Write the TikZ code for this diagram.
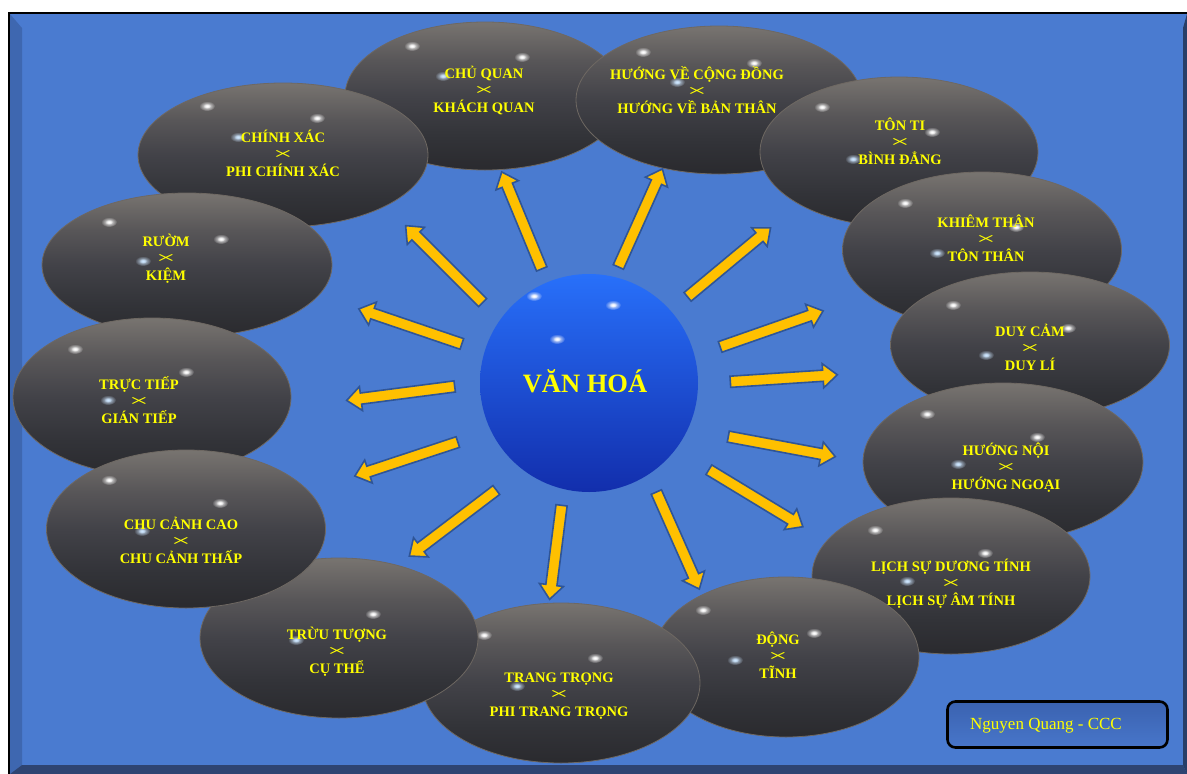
\documentclass[tikz,border=0pt]{standalone}
\usepackage{fontspec}
\setmainfont{Liberation Serif}
\usetikzlibrary{shapes.geometric,shapes.arrows,calc,fadings}
\definecolor{bgblue}{RGB}{74,123,208}
\definecolor{bevL}{RGB}{62,103,176}
\definecolor{bevB}{RGB}{46,68,114}
\definecolor{bevR}{RGB}{40,62,104}
\definecolor{ballRim}{RGB}{110,104,98}
\definecolor{arrFill}{RGB}{255,192,0}
\definecolor{arrOut}{RGB}{47,85,151}
\definecolor{txtY}{RGB}{255,255,0}
\definecolor{bluedot}{RGB}{205,230,255}
\definecolor{sphTop}{RGB}{40,112,250}
\definecolor{sphMid}{RGB}{28,78,228}
\definecolor{sphBot}{RGB}{18,46,172}
\definecolor{boxTop}{RGB}{58,98,176}
\definecolor{boxBot}{RGB}{72,118,202}
\pgfdeclareverticalshading{ballsh}{100bp}{
  color(0bp)=(rgb,255:red,42;green,42;blue,46);
  color(25bp)=(rgb,255:red,42;green,42;blue,46);
  color(36bp)=(rgb,255:red,50;green,51;blue,56);
  color(50bp)=(rgb,255:red,66;green,66;blue,72);
  color(62bp)=(rgb,255:red,88;green,86;blue,88);
  color(75bp)=(rgb,255:red,120;green,116;blue,112);
  color(100bp)=(rgb,255:red,120;green,116;blue,112)}
\tikzfading[name=softdot, inner color=transparent!0, outer color=transparent!100]
\newcommand\crs{{\mdseries\scalebox{2.4}[1.15]{×}}}
\newcommand\hlt[2]{\fill[white, path fading=softdot] (#1,#2) ellipse (8 and 5);\fill[white, path fading=softdot] (#1,#2) ellipse (4 and 2.6);}
\newcommand\hlb[2]{\fill[bluedot, path fading=softdot] (#1,#2) ellipse (8 and 5);\fill[bluedot, path fading=softdot] (#1,#2) ellipse (4 and 2.6);}
\newcommand\blockarr[3]{\path let \p1=($(#2)-(#1)$), \n1={veclen(\x1,\y1)}, \n2={atan2(\y1,\x1)} in node[barrow, minimum height=\n1, rotate=\n2] (#3) at ($(#1)!0.5!(#2)$) {};}
\begin{document}
\begin{tikzpicture}[x=1pt,y=-1pt,
  ball/.style={ellipse, inner sep=0, shading=ballsh, draw=ballRim, line width=0.8pt},
  lbl/.style={text=txtY, font=\bfseries\fontsize{14.5}{17}\selectfont, align=center, inner sep=0},
  barrow/.style={single arrow, draw=arrOut, line width=1.6pt, fill=arrFill, inner xsep=0pt, inner ysep=4.8pt, minimum width=0pt, single arrow head extend=6.5pt, single arrow tip angle=80}]
\useasboundingbox (0,0) rectangle (1187,774);
% frame
\fill[white] (0,0) rectangle (1187,774);
\fill[black] (8,12) rectangle (1187,774);
\fill[bgblue] (10,14) rectangle (1187,774);
\fill[bevL] (10,14) -- (22,28) -- (22,765) -- (10,774) -- cycle;
\fill[bevB] (10,774) -- (22,765) -- (1183,765) -- (1187,774) -- cycle;
\fill[bevR] (1187,14) -- (1183,28) -- (1183,765) -- (1187,774) -- cycle;

% ellipses
\node[ball, minimum width=280pt, minimum height=148pt] (e1) at (485,96) {};
\hlt{412}{46}\hlt{522}{57}\hlb{443}{76}
\node[lbl] (t1) at (484,90) {CHỦ QUAN\\\crs\\KHÁCH QUAN};

\node[ball, minimum width=286pt, minimum height=148pt] (e2) at (719,100) {};
\hlt{643}{52}\hlt{754}{63}\hlb{677}{82}
\node[lbl] (t2) at (697,90) {HƯỚNG VỀ CỘNG ĐỒNG\\\crs\\HƯỚNG VỀ BẢN THÂN};

\node[ball, minimum width=278pt, minimum height=150pt] (e3) at (899,152) {};
\hlt{822}{107}\hlt{932}{132}\hlb{853}{159}
\node[lbl] (t3) at (900,141) {TÔN TI\\\crs\\BÌNH ĐẲNG};

\node[ball, minimum width=279pt, minimum height=156pt] (e4) at (982,250) {};
\hlt{905}{203}\hlt{1016}{227}\hlb{937}{253}
\node[lbl] (t4) at (986,238) {KHIÊM THÂN\\\crs\\TÔN THÂN};

\node[ball, minimum width=279pt, minimum height=146pt] (e5) at (1030,345) {};
\hlt{953}{305}\hlt{1068}{328}\hlb{986}{355}
\node[lbl] (t5) at (1030,347) {DUY CẢM\\\crs\\DUY LÍ};

\node[ball, minimum width=280pt, minimum height=158pt] (e6) at (1003,462) {};
\hlt{927}{414}\hlt{1037}{437}\hlb{958}{464}
\node[lbl] (t6) at (1006,468) {HƯỚNG NỘI\\\crs\\HƯỚNG NGOẠI};

\node[ball, minimum width=278pt, minimum height=156pt] (e7) at (951,576) {};
\hlt{875}{530}\hlt{985}{553}\hlb{907}{581}
\node[lbl] (t7) at (951,584) {LỊCH SỰ DƯƠNG TÍNH\\\crs\\LỊCH SỰ ÂM TÍNH};

\node[ball, minimum width=266pt, minimum height=160pt] (e8) at (786,657) {};
\hlt{703}{610}\hlt{814}{633}\hlb{735}{660}
\node[lbl] (t8) at (778,655) {ĐỘNG\\\crs\\TĨNH};

\node[ball, minimum width=278pt, minimum height=160pt] (e9) at (561,683) {};
\hlt{484}{635}\hlt{595}{658}\hlb{517}{686}
\node[lbl] (t9) at (559,696) {TRANG TRỌNG\\\crs\\PHI TRANG TRỌNG};

\node[ball, minimum width=278pt, minimum height=160pt] (e10) at (339,638) {};
\hlt{263}{590}\hlt{373}{614}\hlb{296}{640}
\node[lbl] (t10) at (337,652) {TRỪU TƯỢNG\\\crs\\CỤ THỂ};

\node[ball, minimum width=290pt, minimum height=144pt] (e14) at (283,155) {};
\hlt{207}{106}\hlt{317}{118}\hlb{238}{137}
\node[lbl] (t14) at (283,153) {CHÍNH XÁC\\\crs\\PHI CHÍNH XÁC};

\node[ball, minimum width=290pt, minimum height=144pt] (e13) at (187,265) {};
\hlt{109}{222}\hlt{221}{239}\hlb{143}{261}
\node[lbl] (t13) at (166,259) {RƯỜM\\\crs\\KIỆM};

\node[ball, minimum width=278pt, minimum height=158pt] (e12) at (152,397) {};
\hlt{75}{349}\hlt{186}{372}\hlb{108}{400}
\node[lbl] (t12) at (139,400) {TRỰC TIẾP\\\crs\\GIÁN TIẾP};

\node[ball, minimum width=279pt, minimum height=158pt] (e11) at (186,529) {};
\hlt{109}{480}\hlt{220}{503}\hlb{142}{531}
\node[lbl] (t11) at (181,540) {CHU CẢNH CAO\\\crs\\CHU CẢNH THẤP};

% centre sphere
\node[circle, minimum size=218pt, inner sep=0, shading=axis, top color=sphTop, middle color=sphMid, bottom color=sphBot] (c) at (589,383) {};
\hlt{534}{296}\hlt{613}{305}\hlt{557}{339}
\node[text=txtY, font=\bfseries\fontsize{26.5}{30}\selectfont, inner sep=0] (ct) at (585,381) {VĂN HOÁ};

% arrows
\coordinate (s1) at (543,272); \coordinate (p1) at (503,175);
\coordinate (s2) at (617,270); \coordinate (p2) at (661,172);
\coordinate (s3) at (685,299); \coordinate (p3) at (768,230);
\coordinate (s4) at (717,348); \coordinate (p4) at (820,312);
\coordinate (s5) at (727,382); \coordinate (p5) at (834,375);
\coordinate (s6) at (725,436); \coordinate (p6) at (832,456);
\coordinate (s7) at (706,468); \coordinate (p7) at (800,525);
\coordinate (s8) at (655,489); \coordinate (p8) at (698,586);
\coordinate (s9) at (562,502); \coordinate (p9) at (550,596);
\coordinate (s10) at (499,488); \coordinate (p10) at (412,554);
\coordinate (s11) at (461,441); \coordinate (p11) at (358,475);
\coordinate (s12) at (458,386); \coordinate (p12) at (350,400);
\coordinate (s13) at (465,345); \coordinate (p13) at (362,310);
\coordinate (s14) at (485,305); \coordinate (p14) at (408,228);
\foreach \i in {1,...,14}{\blockarr{s\i}{p\i}{a\i}}

% author box
\node[draw=black, line width=2.6pt, rounded corners=8pt, shading=axis, top color=boxTop, bottom color=boxBot, minimum width=220pt, minimum height=46pt, inner sep=0] (auth) at (1057.5,724.5) {};
\node[text=txtY, font=\fontsize{17}{20}\selectfont, inner sep=0] (autht) at (1046,726) {Nguyen Quang - CCC};
\end{tikzpicture}
\end{document}
